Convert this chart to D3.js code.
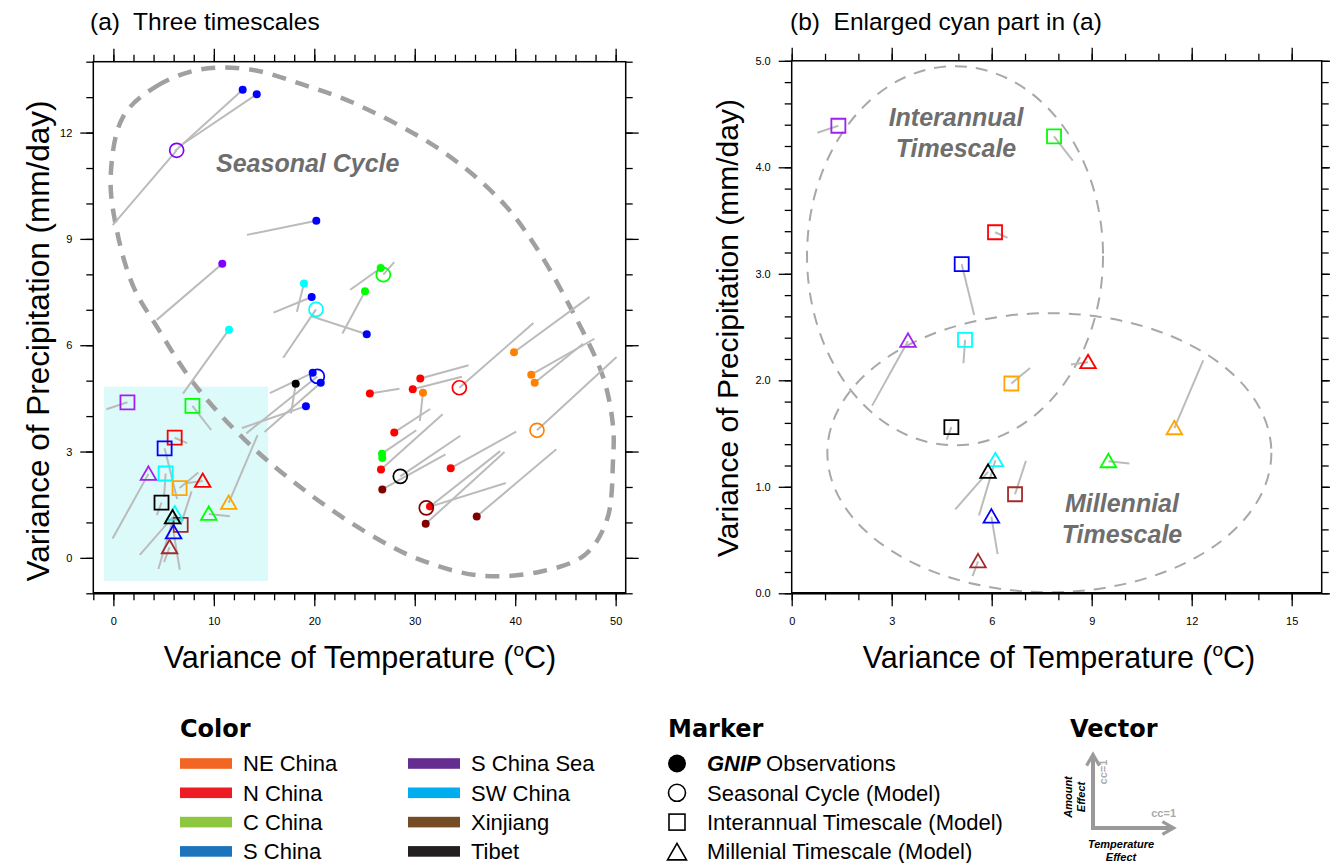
<!DOCTYPE html>
<html lang="en">
<head>
<meta charset="UTF-8">
<title>Temperature and amount effects on three timescales</title>
<script src="https://d3js.org/d3.v7.min.js"></script>
<style>
  body { margin: 0; background: #fff; }
  svg text { font-family: "Liberation Sans", Arial, sans-serif; white-space: pre; }
  .vec { stroke: #bbbbbb; stroke-width: 2; }
  .note { font-weight: bold; font-style: italic; fill: #6e6e6e; font-size: 25px; }
  .leg-title { font-family: "DejaVu Sans", sans-serif !important; font-weight: bold; font-size: 24px; }
  .leg-item { font-size: 22px; }
</style>
</head>
<body>
<svg width="1330" height="863"></svg>
<script>
// legend regions and their colours
const regionNames = ["NE China", "N China", "C China", "S China", "S China Sea", "SW China", "Xinjiang", "Tibet"];
const legendColors = ["#f26522", "#ed1c24", "#8dc63f", "#1c75bc", "#662d91", "#00aeef", "#754c24", "#231f20"];

// marker colours used inside the panels
const obsColors = { NE: "#ff8000", N: "#ff0000", C: "#00ff00", S: "#0000ff", SCS: "#8000ff", SW: "#00ffff", XJ: "#800000", TB: "#000000" };
const modelColors = { NE: "#ffa500", N: "#ff0000", C: "#00ff00", S: "#0000ff", SCS: "#a020f0", SW: "#00ffff", XJ: "#a52a2a", TB: "#000000" };

// [region, temperature variance, precipitation variance, temperature effect cc, amount effect cc]
const gnipObs = [
  ["S", 12.87, 13.21, -0.87, -0.79], ["S", 14.27, 13.08, -0.98, -0.66], ["S", 20.20, 9.51, -0.89, -0.18],
  ["S", 19.74, 7.36, -0.49, -0.20], ["S", 25.22, 6.31, -0.71, 0.23], ["S", 19.84, 5.22, -0.55, -0.26],
  ["S", 20.64, 4.94, -0.72, -0.63], ["S", 19.17, 4.28, -0.82, -0.28],
  ["SCS", 10.84, 8.30, -0.84, -0.72],
  ["SW", 18.97, 7.74, -0.09, -0.36], ["SW", 11.51, 6.44, -0.59, -0.82],
  ["C", 26.61, 8.18, -0.39, -0.28], ["C", 25.05, 7.52, -0.29, -0.54], ["C", 26.74, 2.94, 0.44, 0.30], ["C", 26.77, 2.82, 0, 0],
  ["TB", 18.15, 4.91, -0.06, -0.38],
  ["N", 25.53, 4.64, 0.38, 0.06], ["N", 30.55, 5.06, 0.62, 0.17], ["N", 29.80, 4.76, 0.63, 0.16],
  ["N", 27.96, 3.54, 0.46, 0.30], ["N", 26.64, 2.49, 0.79, 0.71], ["N", 33.58, 2.53, 0.84, 0.47], ["N", 31.52, 1.45, 0.90, 0.71],
  ["NE", 30.82, 4.66, -0.04, -0.36], ["NE", 39.88, 5.80, 0.97, 0.71], ["NE", 41.60, 5.17, 0.81, 0.46], ["NE", 41.94, 4.94, 0.62, 0.50],
  ["XJ", 26.77, 1.93, 0.81, 0.45], ["XJ", 31.09, 0.96, 1.01, 0.92], ["XJ", 36.17, 1.17, 1.02, 0.86]
];
const seasonalModel = [
  ["SCS", 6.30, 11.50, -0.82, -0.96], ["SW", 20.17, 7.01, -0.42, -0.62], ["C", 26.87, 7.99, 0.14, 0.16],
  ["S", 20.30, 5.12, -0.91, -0.73], ["N", 34.44, 4.80, 0.95, 0.83], ["NE", 42.17, 3.60, 1.02, 0.94],
  ["TB", 28.56, 2.30, 0.77, 0.52], ["XJ", 31.15, 1.41, 1.02, 0.32]
];
const interannualModel = [
  ["SCS", 1.40, 4.39, -0.27, -0.09], ["C", 7.87, 4.29, 0.24, -0.31], ["N", 6.10, 3.39, 0.16, -0.07],
  ["S", 5.10, 3.09, 0.16, -0.65], ["SW", 5.20, 2.38, -0.02, -0.30], ["NE", 6.59, 1.97, 0.24, 0.20],
  ["TB", 4.79, 1.56, -0.06, -0.16], ["XJ", 6.70, 0.93, 0.14, 0.43]
];
const millennialModel = [
  ["SCS", 3.49, 2.37, -0.46, -0.83], ["N", 8.89, 2.17, -0.22, -0.03], ["NE", 11.48, 1.55, 0.37, 0.87],
  ["SW", 6.11, 1.25, -0.21, -0.71], ["TB", 5.89, 1.14, -0.42, -0.48], ["C", 9.50, 1.24, 0.27, -0.03],
  ["S", 5.99, 0.72, 0.08, -0.48], ["XJ", 5.59, 0.30, -0.07, -0.19]
];

// hand-traced outline of the seasonal cycle cluster (panel a)
const seasonalOutline = [
  [0.99, 12.46], [4.31, 13.31], [8.62, 13.78], [13.6, 13.78], [18.9, 13.35], [23.88, 12.84],
  [32.5, 11.52], [38.5, 10.1], [41.77, 8.9], [45.45, 7.09], [48.74, 5.11], [49.74, 3.71],
  [49.74, 2.77], [49.14, 1.08], [46.95, 0.09], [42.48, -0.39], [36.5, -0.5], [30.5, -0.05],
  [25.54, 0.66], [19.57, 1.79], [13.6, 3.19], [8.12, 4.88], [4.31, 6.53], [1.98, 7.66],
  [0.33, 9.26], [-0.27, 10.77]
];
// [centre T, centre P, radius T, radius P] of the clusters in panel b
const interannualEllipse = [4.90, 3.17, 4.44, 1.78];
const millennialEllipse = [7.73, 1.32, 6.66, 1.31];
// enlarged region of panel a shown in panel b
const cyanBox = [-0.95, 15.4, -0.65, 4.83];

const leftXMajor = [0, 10, 20, 30, 40, 50];
const leftXMinor = d3.range(-2, 51, 2);
const leftYMajor = [0, 3, 6, 9, 12];
const leftYMinor = d3.range(-1, 15, 1);
const rightXMajor = [0, 3, 6, 9, 12, 15];
const rightXMinor = d3.range(0, 16, 1);
const rightYMajor = [0, 1, 2, 3, 4, 5];
const rightYMinor = d3.range(0, 26).map(i => i / 5);

const L = 78; // vector length in px for cc = 1
const svg = d3.select("svg");

function makePanel(id, xDom, xRange, yDom, yRange) {
  const x = d3.scaleLinear().domain(xDom).range(xRange);
  const y = d3.scaleLinear().domain(yDom).range(yRange);
  const g = svg.append("g");
  svg.append("clipPath").attr("id", "clip-" + id).append("rect")
    .attr("x", xRange[0]).attr("y", yRange[1])
    .attr("width", xRange[1] - xRange[0]).attr("height", yRange[0] - yRange[1]);
  const plot = g.append("g").attr("clip-path", `url(#clip-${id})`);
  return { x, y, g, plot, xRange, yRange };
}

function axis(p, gen, scale, vals, size, fmt, pad, transform) {
  p.g.append("g").attr("transform", transform)
    .call(gen(scale).tickValues(vals).tickSize(size).tickPadding(pad).tickFormat(fmt))
    .attr("font-size", 11).attr("font-family", "Liberation Sans, Arial, sans-serif")
    .call(a => a.select(".domain").remove())
    .call(a => a.selectAll("line").attr("stroke", "#000").attr("stroke-width", 1.3));
}

function drawAxes(p, xMaj, xMin, yMaj, yMin, xFmt, yFmt) {
  const [x0, x1] = p.xRange, [y0, y1] = p.yRange;
  const none = () => "";
  axis(p, d3.axisBottom, p.x, xMin, 7, none, 0, `translate(0,${y0})`);
  axis(p, d3.axisBottom, p.x, xMaj, 13, xFmt, 11, `translate(0,${y0})`);
  axis(p, d3.axisTop, p.x, xMin, 7, none, 0, `translate(0,${y1})`);
  axis(p, d3.axisTop, p.x, xMaj, 13, none, 0, `translate(0,${y1})`);
  axis(p, d3.axisLeft, p.y, yMin, 7, none, 0, `translate(${x0},0)`);
  axis(p, d3.axisLeft, p.y, yMaj, 13, yFmt, 8, `translate(${x0},0)`);
  axis(p, d3.axisRight, p.y, yMin, 7, none, 0, `translate(${x1},0)`);
  axis(p, d3.axisRight, p.y, yMaj, 13, none, 0, `translate(${x1},0)`);
  p.g.append("rect").attr("x", x0).attr("y", y1).attr("width", x1 - x0).attr("height", y0 - y1)
    .attr("fill", "none").attr("stroke", "#000").attr("stroke-width", 1.5);
  p.g.append("line").attr("x1", x0).attr("x2", x1).attr("y1", y0).attr("y2", y0)
    .attr("stroke", "#000").attr("stroke-width", 2.5);
}

function drawVectors(p, pts) {
  p.plot.append("g").selectAll("line").data(pts).join("line").attr("class", "vec")
    .attr("x1", d => p.x(d[1])).attr("y1", d => p.y(d[2]))
    .attr("x2", d => p.x(d[1]) + d[3] * L).attr("y2", d => p.y(d[2]) - d[4] * L);
}

const triPath = "M0,-7.5L7.8,6L-7.8,6Z";
function drawMarkers(p, pts, kind) {
  const g = p.g.append("g");
  const sel = g.selectAll("path").data(pts).join("path")
    .attr("transform", d => `translate(${p.x(d[1])},${p.y(d[2])})`);
  if (kind === "dot") {
    sel.attr("d", d3.arc()({ innerRadius: 0, outerRadius: 4, startAngle: 0, endAngle: 2 * Math.PI }))
      .attr("fill", d => obsColors[d[0]]);
  } else if (kind === "circle") {
    sel.attr("d", d3.arc()({ innerRadius: 0, outerRadius: 7, startAngle: 0, endAngle: 2 * Math.PI }))
      .attr("fill", "none").attr("stroke", d => obsColors[d[0]]).attr("stroke-width", 1.7);
  } else if (kind === "square") {
    sel.attr("d", "M-7,-7H7V7H-7Z").attr("fill", "none")
      .attr("stroke", d => modelColors[d[0]]).attr("stroke-width", 1.8);
  } else {
    sel.attr("d", triPath).attr("fill", "none")
      .attr("stroke", d => modelColors[d[0]]).attr("stroke-width", 1.8);
  }
}

function axisTitles(p, cx, ty, lx, ly, yFont) {
  const t = p.g.append("text").attr("x", cx).attr("y", ty).attr("text-anchor", "middle")
    .attr("font-size", 30.5);
  t.append("tspan").text("Variance of Temperature (");
  t.append("tspan").attr("font-size", 19).attr("dy", -12).text("o");
  t.append("tspan").attr("dy", 12).text("C)");
  p.g.append("text").attr("transform", `translate(${lx},${ly}) rotate(-90)`)
    .attr("text-anchor", "middle").attr("dominant-baseline", "central").attr("font-size", yFont)
    .text("Variance of Precipitation (mm/day)");
}

// ---------- panel (a) ----------
const pa = makePanel("a", [-2, 51], [93.3, 625.7], [-1, 14], [593.3, 61.7]);
pa.plot.append("rect")
  .attr("x", pa.x(cyanBox[0])).attr("width", pa.x(cyanBox[1]) - pa.x(cyanBox[0]))
  .attr("y", pa.y(cyanBox[3])).attr("height", pa.y(cyanBox[2]) - pa.y(cyanBox[3]))
  .attr("fill", "#dcfafa");
pa.plot.append("path")
  .attr("d", d3.line().x(d => pa.x(d[0])).y(d => pa.y(d[1])).curve(d3.curveCatmullRomClosed.alpha(0.5))(seasonalOutline))
  .attr("fill", "none").attr("stroke", "#a0a0a0").attr("stroke-width", 4.5).attr("stroke-dasharray", "14,10");
[gnipObs, seasonalModel, interannualModel, millennialModel].forEach(s => drawVectors(pa, s));
drawMarkers(pa, gnipObs, "dot");
drawMarkers(pa, seasonalModel, "circle");
drawMarkers(pa, interannualModel, "square");
drawMarkers(pa, millennialModel, "triangle");
pa.g.append("text").attr("class", "note").attr("x", 216).attr("y", 172).text("Seasonal Cycle");
drawAxes(pa, leftXMajor, leftXMinor, leftYMajor, leftYMinor, d3.format("d"), d3.format("d"));
axisTitles(pa, 360, 668, 38, 341, 31.5);
svg.append("text").attr("x", 90).attr("y", 30).attr("font-size", 24.5).text("(a)  Three timescales");

// ---------- panel (b) ----------
const pb = makePanel("b", [0, 15.9], [791.7, 1321.7], [0, 5], [593.3, 60.8]);
[interannualEllipse, millennialEllipse].forEach(e => {
  pb.plot.append("ellipse")
    .attr("cx", pb.x(e[0])).attr("cy", pb.y(e[1]))
    .attr("rx", pb.x(e[0] + e[2]) - pb.x(e[0])).attr("ry", pb.y(e[1]) - pb.y(e[1] + e[3]))
    .attr("fill", "none").attr("stroke", "#a8a8a8").attr("stroke-width", 2).attr("stroke-dasharray", "12,9");
});
[interannualModel, millennialModel].forEach(s => drawVectors(pb, s));
drawMarkers(pb, interannualModel, "square");
drawMarkers(pb, millennialModel, "triangle");
pb.g.append("text").attr("class", "note").attr("x", 956).attr("y", 126).attr("text-anchor", "middle").text("Interannual");
pb.g.append("text").attr("class", "note").attr("x", 956).attr("y", 157).attr("text-anchor", "middle").text("Timescale");
pb.g.append("text").attr("class", "note").attr("x", 1122).attr("y", 512).attr("text-anchor", "middle").text("Millennial");
pb.g.append("text").attr("class", "note").attr("x", 1122).attr("y", 543).attr("text-anchor", "middle").text("Timescale");
drawAxes(pb, rightXMajor, rightXMinor, rightYMajor, rightYMinor, d3.format("d"), d3.format(".1f"));
axisTitles(pb, 1059, 668, 727, 328, 30);
svg.append("text").attr("x", 790).attr("y", 30).attr("font-size", 24.5).text("(b)  Enlarged cyan part in (a)");

// ---------- legend: colour ----------
const leg = svg.append("g");
leg.append("text").attr("class", "leg-title").attr("x", 180).attr("y", 737).text("Color");
regionNames.forEach((name, i) => {
  const col = Math.floor(i / 4), row = i % 4;
  const bx = col ? 408 : 180, cy = 763.5 + row * 29.3;
  leg.append("rect").attr("x", bx).attr("y", cy - 5.3).attr("width", 52).attr("height", 10.6).attr("fill", legendColors[i]);
  leg.append("text").attr("class", "leg-item").attr("x", bx + 63).attr("y", cy + 7.8).text(name);
});

// ---------- legend: marker ----------
leg.append("text").attr("class", "leg-title").attr("x", 668).attr("y", 737).text("Marker");
const markerLabels = ["Observations", "Seasonal Cycle (Model)", "Interannual Timescale (Model)", "Millenial Timescale (Model)"];
markerLabels.forEach((label, i) => {
  const cy = 763.5 + i * 29.3, cx = 677;
  if (i === 0) leg.append("circle").attr("cx", cx).attr("cy", cy).attr("r", 9).attr("fill", "#000");
  if (i === 1) leg.append("circle").attr("cx", cx).attr("cy", cy).attr("r", 8.5).attr("fill", "none").attr("stroke", "#000").attr("stroke-width", 1.6);
  if (i === 2) leg.append("rect").attr("x", cx - 8).attr("y", cy - 8).attr("width", 16).attr("height", 16).attr("fill", "none").attr("stroke", "#000").attr("stroke-width", 1.6);
  if (i === 3) leg.append("path").attr("transform", `translate(${cx},${cy + 1})`).attr("d", "M0,-9L9.5,7.5L-9.5,7.5Z").attr("fill", "none").attr("stroke", "#000").attr("stroke-width", 1.6);
  const t = leg.append("text").attr("class", "leg-item").attr("x", 707).attr("y", cy + 7.8);
  if (i === 0) t.append("tspan").attr("font-weight", "bold").attr("font-style", "italic").text("GNIP ");
  t.append("tspan").text(label);
});

// ---------- legend: vector ----------
leg.append("text").attr("class", "leg-title").attr("x", 1070).attr("y", 737).text("Vector");
const defs = svg.append("defs");
defs.append("marker").attr("id", "ah").attr("viewBox", "0 0 10 10").attr("refX", 7).attr("refY", 5)
  .attr("markerWidth", 4).attr("markerHeight", 4).attr("orient", "auto")
  .append("path").attr("d", "M1,1L8,5L1,9").attr("fill", "none").attr("stroke", "#9a9a9a").attr("stroke-width", 2);
leg.append("line").attr("x1", 1093).attr("y1", 828).attr("x2", 1093).attr("y2", 756)
  .attr("stroke", "#9a9a9a").attr("stroke-width", 4).attr("marker-end", "url(#ah)");
leg.append("line").attr("x1", 1091).attr("y1", 828).attr("x2", 1172).attr("y2", 828)
  .attr("stroke", "#9a9a9a").attr("stroke-width", 4).attr("marker-end", "url(#ah)");
leg.append("text").attr("transform", "translate(1107,772) rotate(-90)").attr("text-anchor", "middle")
  .attr("font-size", 11).attr("fill", "#aaa").attr("font-weight", "bold").text("cc=1");
leg.append("text").attr("x", 1176).attr("y", 817).attr("text-anchor", "end")
  .attr("font-size", 11).attr("fill", "#aaa").attr("font-weight", "bold").text("cc=1");
leg.append("text").attr("transform", "translate(1072,797) rotate(-90)").attr("text-anchor", "middle")
  .attr("font-size", 11).attr("font-weight", "bold").attr("font-style", "italic").text("Amount");
leg.append("text").attr("transform", "translate(1085,797) rotate(-90)").attr("text-anchor", "middle")
  .attr("font-size", 11).attr("font-weight", "bold").attr("font-style", "italic").text("Effect");
leg.append("text").attr("x", 1121).attr("y", 848).attr("text-anchor", "middle")
  .attr("font-size", 11).attr("font-weight", "bold").attr("font-style", "italic").text("Temperature");
leg.append("text").attr("x", 1121).attr("y", 861).attr("text-anchor", "middle")
  .attr("font-size", 11).attr("font-weight", "bold").attr("font-style", "italic").text("Effect");
</script>
</body>
</html>
